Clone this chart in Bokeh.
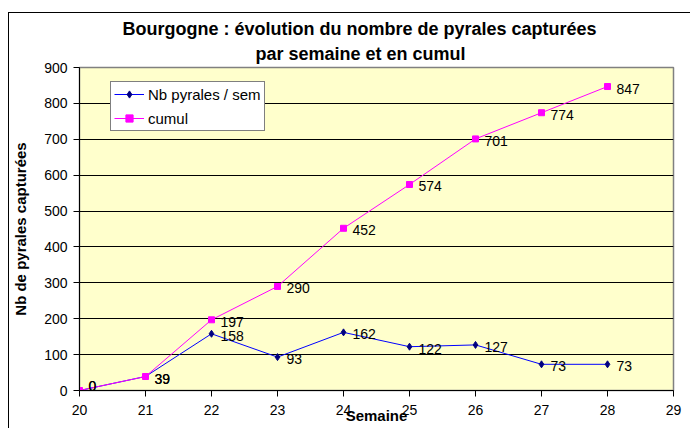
from bokeh.plotting import figure
from bokeh.models import (ColumnDataSource, SingleIntervalTicker, Range1d, Title,
                          Legend, LegendItem, InlineStyleSheet, Label)
from bokeh.embed import file_html
from bokeh.resources import INLINE

semaines = [20, 21, 22, 23, 24, 25, 26, 27, 28]
par_semaine = [0, 39, 158, 93, 162, 122, 127, 73, 73]
cumul = [0, 39, 197, 290, 452, 574, 701, 774, 847]

FONT = "Liberation Sans"

src = ColumnDataSource(dict(x=semaines, sem=par_semaine, cum=cumul))

p = figure(width=690, height=428, output_backend="svg", toolbar_location=None,
           x_range=Range1d(20, 29), y_range=Range1d(0, 900),
           min_border_left=79, min_border_right=17, min_border_top=67,
           min_border_bottom=38)

p.background_fill_color = "#FFFFCC"
p.border_fill_color = "white"
p.outline_line_color = "#808080"
p.outline_line_width = 1.5

# titles
p.add_layout(Title(text="par semaine et en cumul", align="left",
                   text_font=FONT, text_font_size="18px", text_font_style="bold",
                   text_color="black", offset=176, standoff=7), "above")
p.add_layout(Title(text="Bourgogne : évolution du nombre de pyrales capturées", align="left",
                   text_font=FONT, text_font_size="18px", text_font_style="bold",
                   text_color="black", offset=43, standoff=0), "above")

# axes
p.xaxis.ticker = SingleIntervalTicker(interval=1)
p.yaxis.ticker = SingleIntervalTicker(interval=100)
for ax in (p.xaxis[0], p.yaxis[0]):
    ax.major_label_text_font = FONT
    ax.major_label_text_font_size = "14px"
    ax.major_label_text_color = "black"
    ax.axis_label_text_font = FONT
    ax.axis_label_text_font_style = "bold"
    ax.axis_label_text_font_size = "15px"
    ax.axis_label_text_color = "black"
    ax.axis_line_color = "black"
    ax.major_tick_line_color = "black"
    ax.major_tick_in = 0
    ax.major_tick_out = 6
    ax.minor_tick_line_color = None
p.xaxis.axis_label = "Semaine"
p.yaxis.axis_label = "Nb de pyrales capturées"
p.xaxis.axis_label_standoff = -11
p.yaxis.axis_label_standoff = 12
p.xaxis.major_label_standoff = 8
p.yaxis.major_label_standoff = 6

p.xgrid.grid_line_color = None
p.ygrid.grid_line_color = "black"
p.ygrid.grid_line_width = 1

# series
l1 = p.line("x", "sem", source=src, line_color="#0000FF", line_width=1)
m1 = p.scatter("x", "sem", source=src, marker="diamond", size=7,
               fill_color="#000080", line_color="#000080")
l2 = p.line("x", "cum", source=src, line_color="#FF00FF", line_width=1)
m2 = p.scatter("x", "cum", source=src, marker="square", size=6,
               fill_color="#FF00FF", line_color="#FF00FF")

# data labels (zero labels lifted slightly so the frame clip does not hide them)
for series in (par_semaine, cumul):
    for w, v in zip(semaines, series):
        p.add_layout(Label(x=w, y=v, text=str(v), x_offset=9,
                           y_offset=(-2 if v > 0 else 5),
                           text_baseline="middle", text_align="left",
                           text_font_size="14px", text_font=FONT,
                           text_color="black"))

legend = Legend(items=[LegendItem(label="Nb pyrales / sem", renderers=[l1, m1]),
                       LegendItem(label="cumul", renderers=[l2, m2])],
                location=(31, 259))
legend.label_text_font = FONT
legend.label_text_font_size = "15px"
legend.label_text_color = "black"
legend.border_line_color = "black"
legend.border_line_width = 1
legend.background_fill_color = "white"
legend.background_fill_alpha = 1
legend.padding = 3
legend.spacing = 6
legend.margin = 0
legend.glyph_width = 30
legend.glyph_height = 18
legend.label_height = 18
legend.label_standoff = 4
p.add_layout(legend, "center")

# outer chart border (left and top edges of the Excel chart area)
p.stylesheets = [InlineStyleSheet(css="""
:host { position: relative; }
:host::after {
  content: '';
  position: absolute;
  left: 8px; top: 12px;
  width: 682px; height: 416px;
  border-left: 1.5px solid black;
  border-top: 1.5px solid black;
  box-sizing: border-box;
  pointer-events: none;
  z-index: 10;
}
""")]

open("out.html", "w").write(file_html(p, INLINE))
